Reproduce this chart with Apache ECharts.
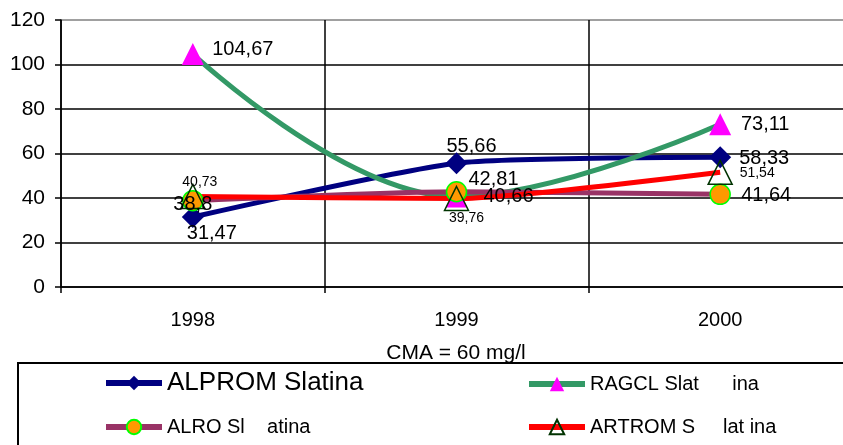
<!DOCTYPE html>
<html>
<head>
<meta charset="utf-8">
<script src="https://cdn.jsdelivr.net/npm/echarts@6/dist/echarts.min.js"></script>
<style>
  html, body { margin: 0; padding: 0; background: #fff; }
  #chart { width: 843px; height: 445px; }
</style>
</head>
<body>
<div id="chart"></div>
<script>
const years = ['1998', '1999', '2000']
const yTicks = [0, 20, 40, 60, 80, 100, 120]
const alprom = [31.47, 55.66, 58.33]
const ragcl = [104.67, 40.66, 73.11]
const alro = [38.8, 42.81, 41.64]
const artrom = [40.73, 39.76, 51.54]
const names = ['ALPROM Slatina', 'RAGCL Slat      ina', 'ALRO Sl    atina', 'ARTROM S     lat ina']

const font = 'Liberation Sans, Arial, sans-serif'
const fmt = p => String(p.value).replace('.', ',')

// label placement per point (offset from marker centre)
function withLabels (values, offsets, size) {
  return values.map((v, i) => ({
    value: v,
    label: {
      show: true,
      position: 'inside',
      offset: offsets[i],
      formatter: fmt,
      color: '#000',
      fontSize: size,
      fontFamily: font
    }
  }))
}

const chart = echarts.init(document.getElementById('chart'))

const legendBase = {
  itemWidth: 56,
  itemHeight: 18,
  padding: 0,
  itemGap: 0,
  lineStyle: { width: 6 },
  textStyle: { color: '#000', fontFamily: font, fontSize: 20 }
}

const option = {
  animation: false,
  grid: { left: 61, top: 20, width: 791, bottom: 158, outerBoundsMode: 'none' },
  legend: [
    Object.assign({}, legendBase, { left: 103, top: 370, data: [{ name: names[0], textStyle: { fontSize: 26 } }] }),
    Object.assign({}, legendBase, { left: 526, top: 374, data: [names[1]] }),
    Object.assign({}, legendBase, { left: 103, top: 417, data: [names[2]] }),
    Object.assign({}, legendBase, { left: 526, top: 417, data: [names[3]] })
  ],
  graphic: [
    {
      type: 'rect',
      shape: { x: 18, y: 363, width: 850, height: 100 },
      style: { fill: 'none', stroke: '#000', lineWidth: 2 }
    },
    {
      type: 'text',
      x: 456,
      y: 353,
      style: {
        text: 'CMA = 60 mg/l',
        fill: '#000',
        font: '21px ' + font,
        align: 'center',
        verticalAlign: 'middle'
      }
    }
  ],
  xAxis: {
    type: 'category',
    data: years,
    boundaryGap: true,
    axisLine: { lineStyle: { color: '#000', width: 1.5 } },
    axisTick: { show: true, length: 6, lineStyle: { color: '#000', width: 1.5 } },
    axisLabel: { color: '#000', fontSize: 20, fontFamily: font, margin: 23 },
    splitLine: { show: true, lineStyle: { color: '#000', width: 1.5 } }
  },
  yAxis: {
    type: 'value',
    min: yTicks[0],
    max: yTicks[yTicks.length - 1],
    interval: 20,
    axisLine: { show: true, lineStyle: { color: '#000', width: 1.5 } },
    axisTick: { show: true, length: 6, lineStyle: { color: '#000', width: 1.5 } },
    axisLabel: { color: '#000', fontSize: 21, fontFamily: font, margin: 16 },
    splitLine: {
      show: true,
      lineStyle: { color: ['#000', '#000', '#000', '#000', '#000', '#000', '#808080'], width: 1.5 }
    }
  },
  series: [
    {
      name: names[0],
      type: 'line',
      smooth: 0.2,
      data: withLabels(alprom, [[19, 17], [15, -17], [44, 1]], 20),
      symbol: 'diamond',
      symbolSize: 22,
      lineStyle: { color: '#000080', width: 5 },
      itemStyle: { color: '#000080' }
    },
    {
      name: names[1],
      type: 'line',
      smooth: 0.4,
      data: withLabels(ragcl, [[50, -5], [52, 0], [45, 0]], 20),
      symbol: 'triangle',
      symbolSize: 22,
      lineStyle: { color: '#339966', width: 5 },
      itemStyle: { color: '#ff00ff' }
    },
    {
      name: names[2],
      type: 'line',
      smooth: 0.2,
      data: withLabels(alro, [[0, 4], [37, -12], [46, 1]], 20),
      symbol: 'circle',
      symbolSize: 20,
      lineStyle: { color: '#993366', width: 5 },
      itemStyle: { color: '#ff9900', borderColor: '#00ff00', borderWidth: 1.5 }
    },
    {
      name: names[3],
      type: 'line',
      smooth: 0.2,
      data: withLabels(artrom, [[7, -14], [10, 20], [37, 1]], 14),
      symbol: 'triangle',
      symbolSize: 24,
      lineStyle: { color: '#ff0000', width: 5 },
      itemStyle: { color: 'rgba(0,0,0,0)', borderColor: '#003300', borderWidth: 1.5 }
    }
  ]
}

chart.setOption(option)
</script>
</body>
</html>
